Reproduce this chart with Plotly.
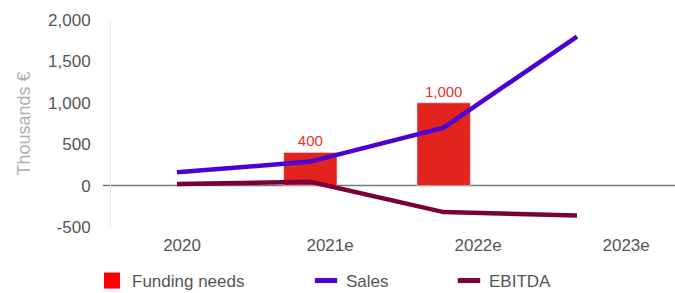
import plotly.graph_objects as go

years = ["2020", "2021e", "2022e", "2023e"]
funding_needs = [None, 400, 1000, None]
funding_labels = ["", "400", "1,000", ""]
sales = [160, 290, 700, 1800]
ebitda = [20, 45, -320, -360]
y_ticks = [-500, 0, 500, 1000, 1500, 2000]
y_tick_text = ["-500", "0", "500", "1,000", "1,500", "2,000"]

BAR = "#E3241E"
SALES = "#4B00D4"
EBITDA = "#7A0036"
TXT = "#555555"
FONT = "Liberation Sans, Arial, sans-serif"

xpos = list(range(len(years)))

fig = go.Figure()
fig.add_trace(go.Bar(x=xpos, y=funding_needs, width=0.4, marker_color=BAR,
                     text=funding_labels, textposition="outside", cliponaxis=False,
                     textfont=dict(color="#E8332A", size=15, family=FONT),
                     showlegend=False))
fig.add_trace(go.Scatter(x=xpos, y=sales, mode="lines",
                         line=dict(color=SALES, width=4.5), showlegend=False))
fig.add_trace(go.Scatter(x=xpos, y=ebitda, mode="lines",
                         line=dict(color=EBITDA, width=4.5), showlegend=False))
# hidden trace carrying the category labels axis
fig.add_trace(go.Scatter(x=xpos, y=[None] * 4, xaxis="x2", mode="markers",
                         showlegend=False, hoverinfo="skip"))

# legend entries
fig.add_trace(go.Scatter(x=[None], y=[None], mode="markers", name="Funding needs",
                         marker=dict(symbol="square", size=16, color="#FF0000"),
                         legend="legend"))
fig.add_trace(go.Scatter(x=[None], y=[None], mode="markers", name="Sales",
                         marker=dict(symbol="line-ew", size=16,
                                     line=dict(color=SALES, width=5)),
                         legend="legend2"))
fig.add_trace(go.Scatter(x=[None], y=[None], mode="markers", name="EBITDA",
                         marker=dict(symbol="line-ew", size=16,
                                     line=dict(color=EBITDA, width=5)),
                         legend="legend3"))

leg_common = dict(orientation="h", xref="container", yref="container",
                  yanchor="middle", xanchor="left", y=1 - 281 / 293,
                  font=dict(size=17, color=TXT, family=FONT),
                  bgcolor="rgba(0,0,0,0)", itemclick=False)

fig.update_layout(
    width=675, height=293,
    margin=dict(l=111, r=0, t=20, b=66),
    paper_bgcolor="white", plot_bgcolor="white",
    font=dict(family=FONT, color=TXT, size=17),
    xaxis=dict(range=[-0.495, 3.735], showticklabels=False, showgrid=False,
               zeroline=False, showline=False, ticks=""),
    xaxis2=dict(range=[-0.48, 3.33], overlaying="x", side="bottom",
                tickvals=xpos, ticktext=years, showgrid=False, zeroline=False,
                showline=False, ticks="", ticklabelstandoff=6,
                tickfont=dict(size=17, color=TXT, family=FONT)),
    yaxis=dict(range=[-500, 2000], tickvals=y_ticks, ticktext=y_tick_text,
               showgrid=False, zeroline=False, showline=True, linecolor="#ececec",
               linewidth=1, ticks="", ticklabelstandoff=16,
               tickfont=dict(size=17, color=TXT, family=FONT),
               title=dict(text="Thousands €", standoff=12,
                          font=dict(size=18, color="#b0b0b0", family=FONT))),
    legend=dict(x=92 / 675, **leg_common),
    legend2=dict(x=306 / 675, **leg_common),
    legend3=dict(x=449 / 675, **leg_common),
    shapes=[dict(type="line", xref="paper", yref="y", x0=-8 / 564, x1=1, y0=0, y1=0,
                 line=dict(color="#777777", width=1.5), layer="below")],
)

fig.write_html("out.html", config={"displayModeBar": False},
               post_script="document.body.style.margin='0';")
